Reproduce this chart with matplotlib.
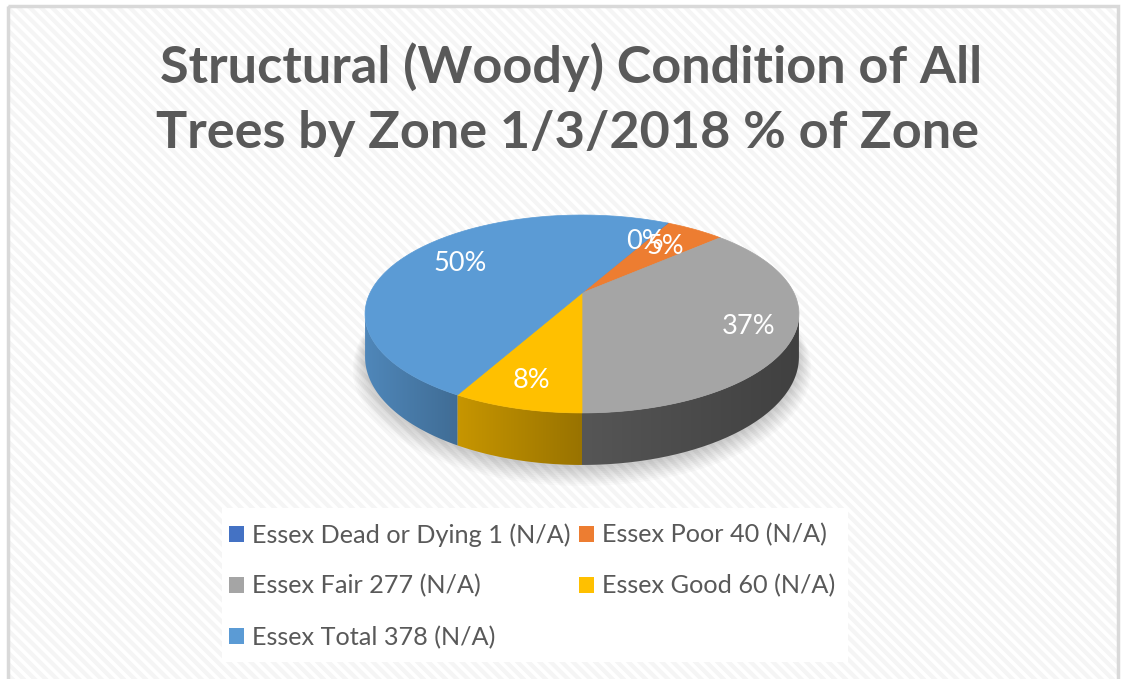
import numpy as np
import matplotlib.pyplot as plt
from matplotlib.patches import Polygon, Rectangle, Patch
import matplotlib.colors as mcolors

# chart data
labels = ['Essex Dead or Dying 1 (N/A)', 'Essex Poor 40 (N/A)', 'Essex Fair 277 (N/A)',
          'Essex Good 60 (N/A)', 'Essex Total 378 (N/A)']
values = [1, 40, 277, 60, 378]
colors = ['#4472C4', '#ED7D31', '#A5A5A5', '#FFC000', '#5B9BD5']
title_lines = ['Structural (Woody) Condition of All', 'Trees by Zone 1/3/2018 % of Zone']

# side wall shading (left factor, right factor) per slice
side_shade = [(0.8, 0.65), (0.8, 0.65), (0.52, 0.39), (0.78, 0.6), (0.87, 0.7)]
label_r = [0.7, 0.7, 0.8, 0.8, 0.7]

W, H = 1121, 679
plt.rcParams['font.family'] = ['Lato', 'DejaVu Sans']
plt.rcParams['hatch.linewidth'] = 3.0

fig = plt.figure(figsize=(W / 100, H / 100), dpi=100)
ax = fig.add_axes([0, 0, 1, 1])
ax.set_xlim(0, W)
ax.set_ylim(H, 0)
ax.axis('off')

# background with faint diagonal texture and a light frame
ax.add_patch(Rectangle((8, 6), W - 11, H, facecolor='white', edgecolor='#f5f5f5',
                       hatch='\\\\\\', lw=0, zorder=0))
ax.add_patch(Rectangle((8, 6), W - 11, H + 10, fill=False, edgecolor='#d9d9d9', lw=2.5, zorder=1))

# perspective projection of the pie disk
cx, cy = 582, 293
a, b, k = 212, 94.5, 0.212
depth = 41


def proj(t, r=1.0, dz=0.0):
    t = np.radians(t)
    u, v = r * np.sin(t), r * np.cos(t)
    w = 1 + k * v
    return cx + a * u / w, cy - b * v / w + dz / w


total = sum(values)
start = 180 - 360 * sum(values[:3]) / total  # so that Fair ends at 6 o'clock
bounds = [start]
for v in values:
    bounds.append(bounds[-1] + 360 * v / total)

# soft shadow under the pie
tt = np.linspace(0, 360, 200)
for i in range(10):
    sx, sy = proj(tt, 1.0 + 0.006 * i, depth + 2 + i * 0.8)
    ax.add_patch(Polygon(np.column_stack([sx, sy]), closed=True, facecolor='#000000',
                         edgecolor='none', alpha=0.018, zorder=2))

# front walls
front_lo = 90 + np.degrees(np.arcsin(k))
front_hi = 270 - np.degrees(np.arcsin(k))
for i in range(len(values)):
    t0, t1 = bounds[i], bounds[i + 1]
    lo, hi = max(t0, front_lo), min(t1, front_hi)
    if hi <= lo:
        continue
    ts = np.linspace(lo, hi, 80)
    x_top, y_top = proj(ts)
    x_bot, y_bot = proj(ts[::-1], dz=depth)
    poly = Polygon(np.column_stack([np.r_[x_top, x_bot], np.r_[y_top, y_bot]]), closed=True,
                   facecolor='none', edgecolor='none', zorder=3)
    ax.add_patch(poly)
    base = np.array(mcolors.to_rgb(colors[i]))
    fl, fr = side_shade[i]
    grad = np.linspace(fl, fr, 64)[None, :, None] * base[None, None, :]
    x0, x1 = x_top.min(), x_top.max()
    y0, y1 = y_top.min() - 2, y_bot.max() + 2
    im = ax.imshow(grad, extent=[x0, x1, y1, y0], aspect='auto', zorder=3, interpolation='bilinear')
    im.set_clip_path(poly)

# top faces
for i in range(len(values)):
    ts = np.linspace(bounds[i], bounds[i + 1], max(4, int(bounds[i + 1] - bounds[i]) * 2))
    xs, ys = proj(ts)
    ax.add_patch(Polygon(np.column_stack([np.r_[cx, xs], np.r_[cy, ys]]), closed=True,
                         facecolor=colors[i], edgecolor=colors[i], lw=0.5, zorder=4))

# percentage labels
for i, v in enumerate(values):
    mid = (bounds[i] + bounds[i + 1]) / 2
    lx, ly = proj(mid, label_r[i])
    ax.text(lx, ly, f'{round(100 * v / total)}%', color='white', fontsize=19.5,
            ha='center', va='center', zorder=6)

# title
ax.text(571, 83, title_lines[0], ha='center', va='baseline', fontsize=37.6,
        fontweight='bold', color='#595959', zorder=6)
ax.text(567, 148, title_lines[1], ha='center', va='baseline', fontsize=37.6,
        fontweight='bold', color='#595959', zorder=6)

# legend panel
ax.add_patch(Rectangle((222, 508), 626, 154, facecolor='white', edgecolor='none', zorder=5))
order = [0, 2, 4, 1, 3]
handles = [Patch(facecolor=colors[j], edgecolor='none') for j in order]
leg = ax.legend(handles, [labels[j] for j in order], ncol=2, frameon=False,
                loc='upper left', bbox_to_anchor=(229 / W, 1 - 523 / H),
                fontsize=18.2, labelcolor='#595959', handlelength=0.6, handleheight=0.6,
                handletextpad=0.32, columnspacing=0.32, labelspacing=1.1, borderpad=0,
                borderaxespad=0)
leg.set_zorder(7)

fig.savefig('out.png', dpi=100, facecolor='white')
